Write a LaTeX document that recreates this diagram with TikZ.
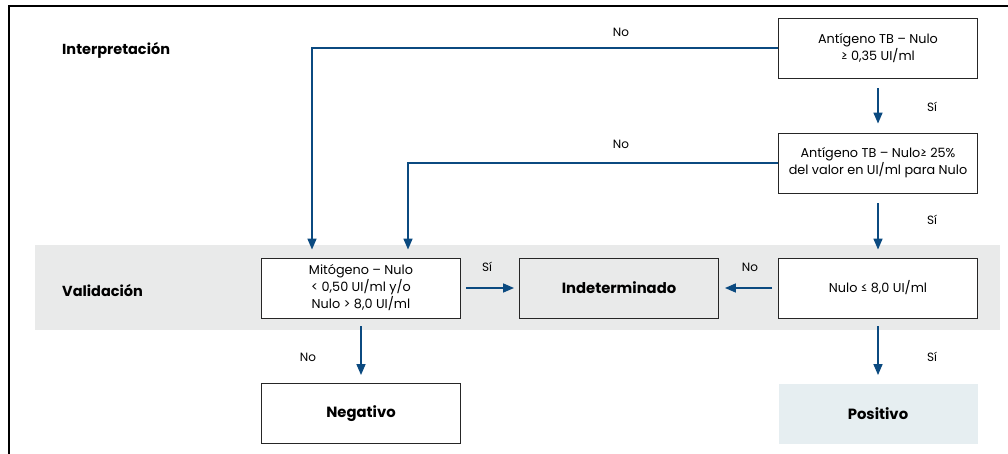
\documentclass[tikz,border=0pt]{standalone}
\usepackage{fontspec}
\setmainfont{Poppins}
\usetikzlibrary{arrows.meta}
\definecolor{qblue}{HTML}{0B4A80}
\definecolor{bandgray}{HTML}{E9EAEA}
\definecolor{posfill}{HTML}{E6EEF1}

\begin{document}
\begin{tikzpicture}[x=1pt, y=-1pt,
    box/.style={draw=black!85, line width=0.9pt, minimum width=199pt, minimum height=60pt,
                inner sep=0pt, align=center, font=\fontsize{12.8}{17}\selectfont},
    result/.style={box, font=\fontsize{14.8}{17}\selectfont\bfseries},
    flow/.style={qblue, line width=1.6pt, -{Triangle[width=9pt,length=11pt]}},
    lbl/.style={font=\fontsize{12}{14}\selectfont},
    head/.style={font=\fontsize{14.5}{17}\selectfont\bfseries, anchor=west, inner sep=0pt}]
    \useasboundingbox (0,0) rectangle (1008,454);

    % Frame and band
    \draw[line width=2pt] (9,454) -- (9,6) -- (1008,6);
    \fill[bandgray] (35,245) rectangle (1000,330);
    \node[head] (interp) at (62,50) {Interpretación};
    \node[head] (valid) at (62,291) {Validación};

    % Interpretation column
    \node[box, fill=white] (tbnull) at (878,48) {Antígeno TB – Nulo\\≥ 0,35 UI/ml};
    \node[box, fill=white] (tbpct) at (878,163) {Antígeno TB – Nulo≥ 25\%\\del valor en UI/ml para Nulo};

    % Validation row
    \node[box, fill=white] (mito) at (361,288) {Mitógeno – Nulo\\< 0,50 UI/ml y/o\\Nulo > 8,0 UI/ml};
    \node[result, fill=bandgray] (indet) at (619,288) {Indeterminado};
    \node[box, fill=white] (null) at (878,288) {Nulo ≤ 8,0 UI/ml};

    % Results
    \node[result, fill=white] (neg) at (361,413.5) {Negativo};
    \node[result, draw=none, fill=posfill] (pos) at (878,413.5) {Positivo};

    % Connectors
    \draw[flow, shorten >=8pt] (tbnull.west) -| ([xshift=-49pt]mito.north);
    \draw[flow, shorten >=8pt] (tbpct.west) -| ([xshift=47pt]mito.north);
    \draw[flow, shorten <=10pt, shorten >=9pt] (tbnull) -- (tbpct);
    \draw[flow, shorten <=10pt, shorten >=8pt] (tbpct) -- (null);
    \draw[flow, shorten <=5pt, shorten >=5pt] (mito) -- (indet);
    \draw[flow, shorten <=6pt, shorten >=6pt] (null) -- (indet);
    \draw[flow, shorten <=8pt, shorten >=8pt] (mito) -- (neg);
    \draw[flow, shorten <=8pt, shorten >=8pt] (null) -- (pos);

    % Labels
    \node[lbl] (no1) at (621,32) {No};
    \node[lbl] (no2) at (621,144) {No};
    \node[lbl] (si1) at (932,107) {Sí};
    \node[lbl] (si2) at (932,220) {Sí};
    \node[lbl] (si3) at (487,267) {Sí};
    \node[lbl] (no3) at (750,267) {No};
    \node[lbl] (no4) at (308,357) {No};
    \node[lbl] (si4) at (932,357) {Sí};
\end{tikzpicture}
\end{document}
